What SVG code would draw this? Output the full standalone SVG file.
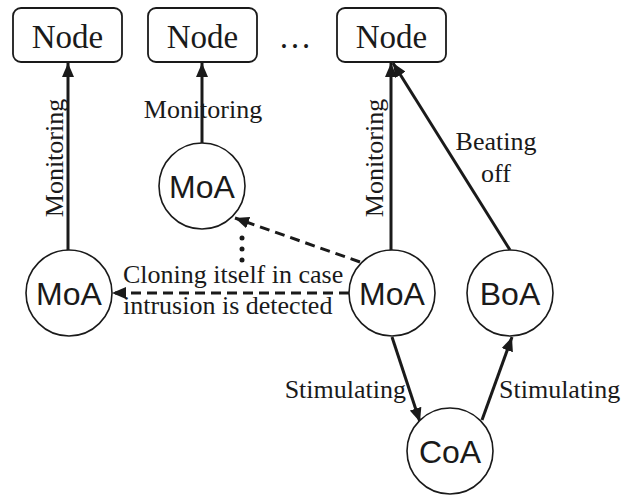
<svg xmlns="http://www.w3.org/2000/svg" width="623" height="496" viewBox="0 0 623 496">
<defs>
<marker id="ah" markerUnits="userSpaceOnUse" markerWidth="15" markerHeight="12" refX="14" refY="6" orient="auto">
<path d="M0,0 L14,6 L0,12 z" fill="#1a1a1a"/>
</marker>
<style>
.box{fill:#fff;stroke:#1a1a1a;stroke-width:1.8}
.circ{fill:#fff;stroke:#1a1a1a;stroke-width:1.6}
.nt{font-family:"Liberation Serif",serif;font-size:33px;fill:#1a1a1a;text-anchor:middle}
.at{font-family:"Liberation Sans",Arial,sans-serif;font-size:32px;fill:#1a1a1a;text-anchor:middle}
.lt{font-family:"Liberation Serif",serif;font-size:26px;fill:#1a1a1a}
.ln{stroke:#1a1a1a;stroke-width:3;fill:none;marker-end:url(#ah)}
.pl{stroke:#1a1a1a;stroke-width:3;fill:none}
.dl{stroke:#1a1a1a;stroke-width:3;fill:none;stroke-dasharray:10 6;marker-end:url(#ah)}
</style>
</defs>
<rect width="623" height="496" fill="#fff"/>
<g id="connectors">
<line class="ln" x1="68" y1="250" x2="68" y2="63"/>
<line class="ln" x1="202" y1="143" x2="202" y2="63"/>
<line class="ln" x1="391" y1="250" x2="391" y2="63"/>
<line class="ln" x1="510" y1="250" x2="393" y2="63"/>
<line class="ln" x1="392" y1="337" x2="420" y2="422"/>
<line class="ln" x1="482" y1="420" x2="512" y2="337"/>
<line class="dl" x1="349" y1="293" x2="112" y2="293"/>
<line class="dl" x1="360" y1="262" x2="235" y2="218"/>
<g fill="#1a1a1a">
<circle cx="242" cy="238" r="2.5"/>
<circle cx="242" cy="249" r="2.5"/>
<circle cx="242" cy="260" r="2.5"/>
</g>
<text class="lt" transform="translate(63,158) rotate(-90)" text-anchor="middle">Monitoring</text>
<text class="lt" x="203" y="118" text-anchor="middle">Monitoring</text>
<text class="lt" transform="translate(383,158) rotate(-90)" text-anchor="middle">Monitoring</text>
<text class="lt" x="496" y="150" text-anchor="middle">Beating</text>
<text class="lt" x="496" y="182" text-anchor="middle">off</text>
<text class="lt" x="123" y="283">Cloning itself in case</text>
<text class="lt" x="123" y="314">intrusion is detected</text>
<text class="lt" x="406" y="398" text-anchor="end">Stimulating</text>
<text class="lt" x="499" y="398">Stimulating</text>
</g>
<g id="node1"><rect class="box" x="13" y="8" width="109" height="54" rx="8"/><text class="nt" x="67.5" y="48">Node</text></g>
<g id="node2"><rect class="box" x="148" y="8" width="109" height="54" rx="8"/><text class="nt" x="202.5" y="48">Node</text></g>
<g id="ellipsis"><text class="nt" x="295" y="48">…</text></g>
<g id="node3"><rect class="box" x="337" y="8" width="109" height="54" rx="8"/><text class="nt" x="391.5" y="48">Node</text></g>
<g id="moa-left"><circle class="circ" cx="69" cy="293" r="43"/><text class="at" x="69" y="305">MoA</text></g>
<g id="moa-mid"><circle class="circ" cx="202" cy="186" r="43"/><text class="at" x="202" y="198">MoA</text></g>
<g id="moa-right"><circle class="circ" cx="392" cy="293" r="43"/><text class="at" x="392" y="305">MoA</text></g>
<g id="boa"><circle class="circ" cx="510" cy="293" r="43"/><text class="at" x="510" y="305">BoA</text></g>
<g id="coa"><circle class="circ" cx="450" cy="451" r="43"/><text class="at" x="450" y="463">CoA</text></g>
</svg>
